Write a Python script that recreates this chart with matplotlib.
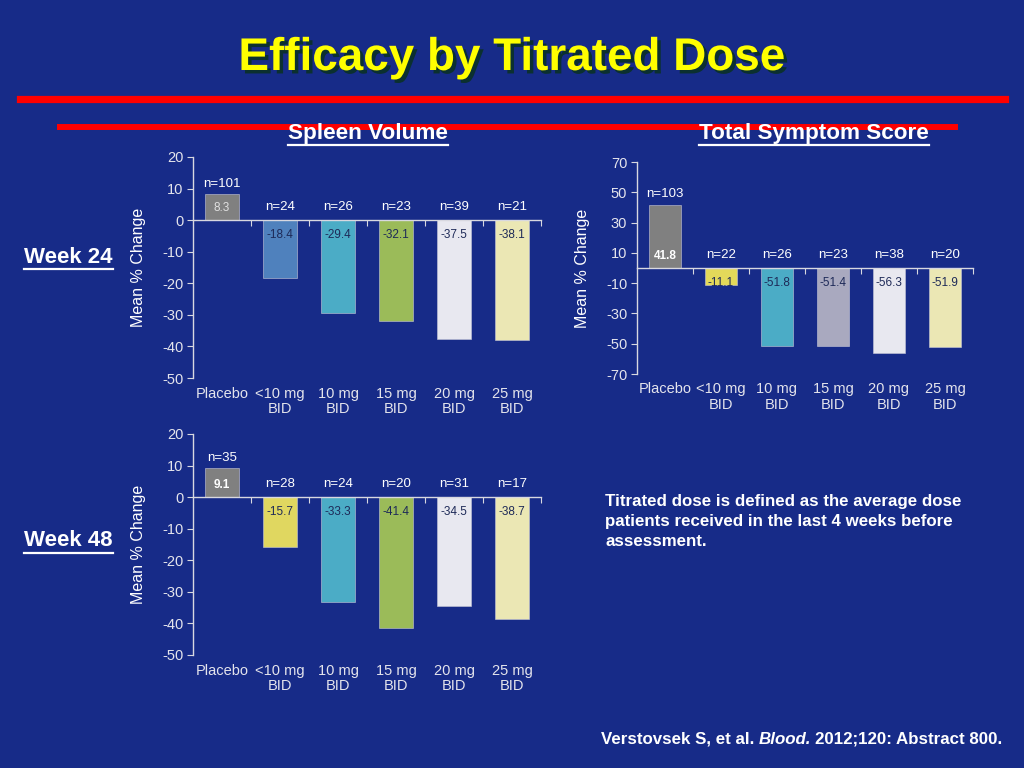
import numpy as np
import matplotlib
matplotlib.use('Agg')
import matplotlib.pyplot as plt
import matplotlib.patheffects as pe
from matplotlib.lines import Line2D
from matplotlib import transforms

W, H = 1024, 768
BG = '#172b88'

categories = ['Placebo', '<10 mg\nBID', '10 mg\nBID', '15 mg\nBID', '20 mg\nBID', '25 mg\nBID']

# spleen volume, week 24
sv24_vals = [8.3, -18.4, -29.4, -32.1, -37.5, -38.1]
sv24_n = [101, 24, 26, 23, 39, 21]
sv24_colors = ['#808080', '#4f81bd', '#4bacc6', '#9bbb59', '#e8e8f0', '#ebe7b4']

# spleen volume, week 48
sv48_vals = [9.1, -15.7, -33.3, -41.4, -34.5, -38.7]
sv48_n = [35, 28, 24, 20, 31, 17]
sv48_colors = ['#808080', '#e0d760', '#4bacc6', '#9bbb59', '#e8e8f0', '#ebe7b4']

# total symptom score, week 24
tss_vals = [41.8, -11.1, -51.8, -51.4, -56.3, -51.9]
tss_n = [103, 22, 26, 23, 38, 20]
tss_colors = ['#808080', '#e3d95a', '#4bacc6', '#a9a9bf', '#e8e8f0', '#ebe7b4']

left_ticks = [20, 10, 0, -10, -20, -30, -40, -50]
right_ticks = [70, 50, 30, 10, -10, -30, -50, -70]

plt.rcParams['font.family'] = ['Liberation Sans', 'DejaVu Sans']
plt.rcParams['axes.unicode_minus'] = False

fig = plt.figure(figsize=(W / 100, H / 100), dpi=100, facecolor=BG)


def px(x, y):
    return x / W, 1 - y / H


def draw_panel(rect, vals, ns, colors, yticks, pos_bold):
    l, t, r, b = rect
    ax = fig.add_axes([l / W, 1 - b / H, (r - l) / W, (b - t) / H])
    ax.set_facecolor('none')
    x = np.arange(len(vals))
    ax.bar(x, vals, width=0.57, color=colors, edgecolor='#c8c8d8', linewidth=0.4, zorder=2)
    ax.set_xlim(-0.5, len(vals) - 0.5)
    ax.set_ylim(min(yticks), max(yticks))
    ax.set_yticks(yticks)
    for s in ['top', 'right']:
        ax.spines[s].set_visible(False)
    ax.spines['bottom'].set_position(('data', 0))
    ax.spines['bottom'].set_zorder(3)
    for s in ['left', 'bottom']:
        ax.spines[s].set_color('#d8d8e0')
        ax.spines[s].set_linewidth(1.0)
    ax.set_xticks(np.arange(0.5, len(vals), 1.0))
    ax.set_xticklabels([])
    ax.tick_params(axis='x', direction='out', length=4, color='#d8d8e0')
    ax.tick_params(axis='y', direction='out', length=4, color='#d8d8e0',
                   labelcolor='#e4e4ec', labelsize=10.5, pad=3)
    ax.set_ylabel('Mean % Change', color='white', fontsize=11.5)
    ax.yaxis.set_label_coords(-47 / (r - l), 0.5)

    trans = transforms.blended_transform_factory(ax.transData, ax.transAxes)
    for i, lab in enumerate(categories):
        ax.text(i, -0.04, lab, transform=trans, ha='center', va='top',
                color='#e4e4ec', fontsize=10.5, linespacing=1.15)

    for i, (v, n) in enumerate(zip(vals, ns)):
        if v > 0:
            ax.annotate(f'n={n}', (i, v), xytext=(0, 7.5), textcoords='offset points',
                        ha='center', va='center', color='white', fontsize=9.5)
            ax.annotate(f'{v}', (i, 0), xytext=(0, 8.5), textcoords='offset points',
                        ha='center', va='center', color='white' if pos_bold else '#e0e0e0',
                        fontsize=8.5, fontweight='bold' if pos_bold else 'normal', zorder=4)
        else:
            ax.annotate(f'n={n}', (i, 0), xytext=(0, 9.5), textcoords='offset points',
                        ha='center', va='center', color='white', fontsize=9.5)
            ax.annotate(f'{v}', (i, 0), xytext=(0, -10.5), textcoords='offset points',
                        ha='center', va='center', color='#1e2a58', fontsize=8.5, zorder=4)
    return ax


draw_panel((193, 157, 541, 378), sv24_vals, sv24_n, sv24_colors, left_ticks, False)
draw_panel((193, 434, 541, 655), sv48_vals, sv48_n, sv48_colors, left_ticks, True)
draw_panel((637, 162, 973, 374), tss_vals, tss_n, tss_colors, right_ticks, True)

# red rules
fig.add_artist(Line2D([20 / W, 1005 / W], [1 - 99 / H] * 2, color='#ff0000', lw=5.2))
fig.add_artist(Line2D([60 / W, 955 / W], [1 - 127 / H] * 2, color='#ff0000', lw=4.3))

# title
fig.text(*px(512, 58), 'Efficacy by Titrated Dose', ha='center', va='center',
         color='#ffff00', fontsize=33, fontweight='bold',
         path_effects=[pe.SimplePatchShadow(offset=(2.5, -2.5), shadow_rgbFace='#0b3030', alpha=1.0),
                       pe.Normal()])

underlined = []
underlined.append(fig.text(*px(368, 133), 'Spleen Volume', ha='center', va='center',
                           color='white', fontsize=16.2, fontweight='bold'))
underlined.append(fig.text(*px(814, 133), 'Total Symptom Score', ha='center', va='center',
                           color='white', fontsize=16.2, fontweight='bold'))
underlined.append(fig.text(*px(24, 257), 'Week 24', ha='left', va='center',
                           color='white', fontsize=16, fontweight='bold'))
underlined.append(fig.text(*px(24, 541), 'Week 48', ha='left', va='center',
                           color='white', fontsize=16, fontweight='bold'))

fig.text(*px(605, 494), 'Titrated dose is defined as the average dose\n'
         'patients received in the last 4 weeks before\nassessment.',
         ha='left', va='top', color='white', fontsize=12.2, fontweight='bold', linespacing=1.42)

renderer = fig.canvas.get_renderer()
for t in underlined:
    bb = t.get_window_extent(renderer)
    fig.add_artist(Line2D([bb.x0 / W, bb.x1 / W], [(bb.y0 - 1) / H] * 2, color='white', lw=1.6))

# citation, built from pieces so "Blood." can be italic
cx, cy = px(601, 739)
pieces = [('Verstovsek S, et al.', 'normal'), ('Blood.', 'italic'), ('2012;120: Abstract 800.', 'normal')]
for txt, style in pieces:
    t = fig.text(cx, cy, txt, ha='left', va='center', color='white', fontsize=12.2,
                 fontweight='bold', fontstyle=style)
    bb = t.get_window_extent(renderer)
    cx = (bb.x1 + 4) / W

fig.savefig('out.png', dpi=100, facecolor=BG)
